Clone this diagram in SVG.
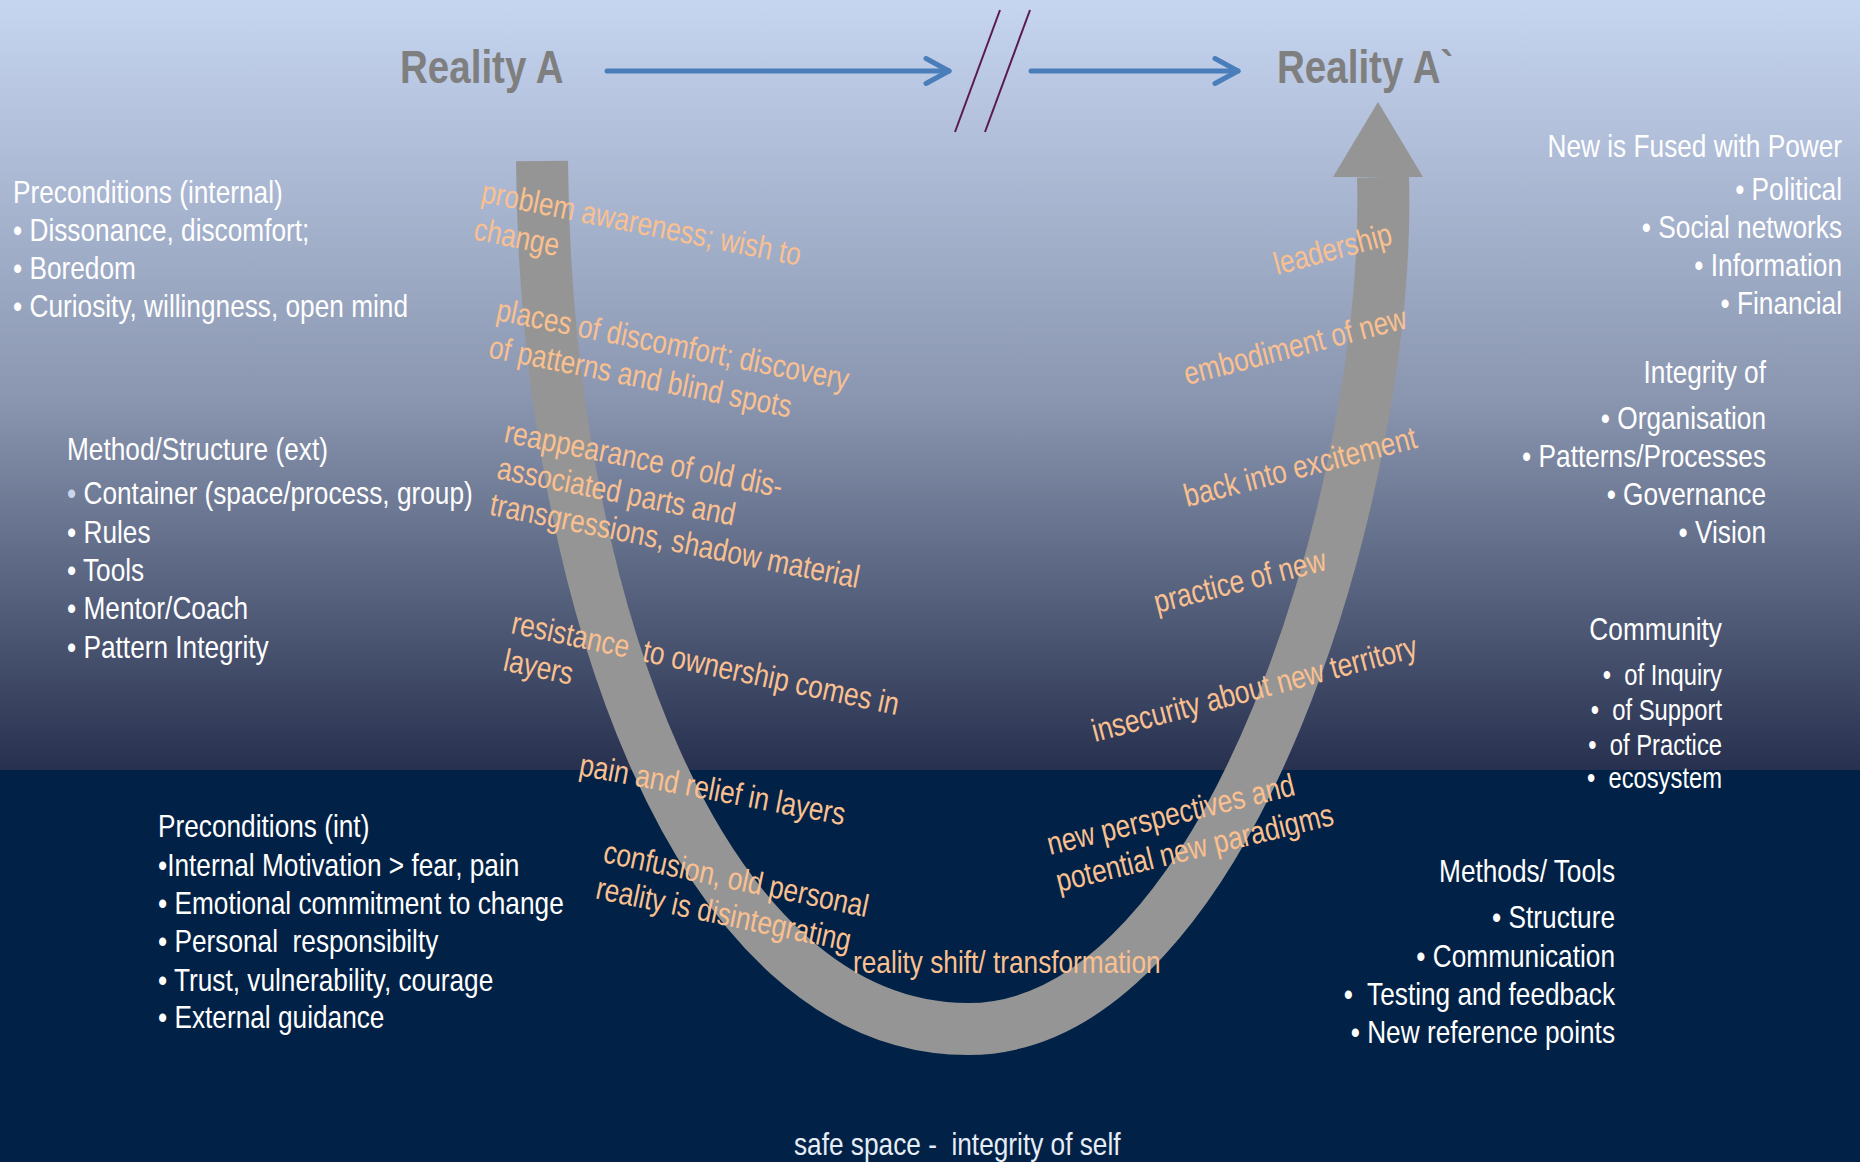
<svg xmlns="http://www.w3.org/2000/svg" width="1860" height="1162" viewBox="0 0 1860 1162">
<style>
.f{font-family:"Liberation Sans","Arial",sans-serif;white-space:pre}
.w{fill:#ffffff;font-size:32px}
.ws{fill:#ffffff;font-size:29px}
.o{fill:#fac090;font-size:32px}
.t{fill:#7f7f7f;font-size:47px;font-weight:bold}
.e{text-anchor:end}
.blue{stroke:#4a7ebb;stroke-width:5;fill:none;stroke-linecap:round;stroke-linejoin:round}
.slash{stroke:#5a1a50;stroke-width:2}
</style>
<defs>
<linearGradient id="bg" x1="0" y1="0" x2="0" y2="770" gradientUnits="userSpaceOnUse">
<stop offset="0" stop-color="#c6d5f0"/>
<stop offset="0.52" stop-color="#8a96b0"/>
<stop offset="1" stop-color="#27314f"/>
</linearGradient>
<marker id="chev" markerUnits="userSpaceOnUse" markerWidth="40" markerHeight="40" refX="24" refY="14" orient="auto" overflow="visible">
<path d="M1,1.5 L24,14 L1,26.5" fill="none" stroke="#4a7ebb" stroke-width="5" stroke-linecap="round" stroke-linejoin="round"/>
</marker>
</defs>
<rect x="0" y="0" width="1860" height="771" fill="url(#bg)"/>
<rect x="0" y="770" width="1860" height="392" fill="#012246"/>

<g id="u-arrow">
<path d="M 542 161 C 545 600 700 1029 968 1029 C 1230 1029 1392 480 1383 177" fill="none" stroke="#959595" stroke-width="52"/>
<polygon points="1333,177 1423,177 1378,102" fill="#959595"/>
</g>

<g id="connectors">
<line class="blue" x1="607" y1="71" x2="949" y2="71" marker-end="url(#chev)"/>
<line class="blue" x1="1031" y1="71" x2="1238" y2="71" marker-end="url(#chev)"/>
<line class="slash" x1="1000" y1="10" x2="955" y2="132"/>
<line class="slash" x1="1030" y1="10" x2="985" y2="132"/>
</g>

<g id="reality-a" transform="translate(400,0) scale(0.82,1)"><text class="f t" x="0" y="83">Reality A</text></g>
<g id="reality-a-prime" transform="translate(1277,0) scale(0.82,1)"><text class="f t" x="0" y="83">Reality A`</text></g>

<g id="preconditions-internal" transform="translate(13,0) scale(0.82,1)">
<text class="f w" x="0" y="203">Preconditions (internal)</text>
<text class="f w" x="0" y="241">• Dissonance, discomfort;</text>
<text class="f w" x="0" y="279">• Boredom</text>
<text class="f w" x="0" y="317">• Curiosity, willingness, open mind</text>
</g>

<g id="method-structure" transform="translate(67,0) scale(0.82,1)">
<text class="f w" x="0" y="460">Method/Structure (ext)</text>
<text class="f w" x="0" y="504"><tspan fill="#c9d6ea">•</tspan> Container (space/process, group)</text>
<text class="f w" x="0" y="543">• Rules</text>
<text class="f w" x="0" y="581">• Tools</text>
<text class="f w" x="0" y="619">• Mentor/Coach</text>
<text class="f w" x="0" y="658">• Pattern Integrity</text>
</g>

<g id="preconditions-int" transform="translate(158,0) scale(0.82,1)">
<text class="f w" x="0" y="837">Preconditions (int)</text>
<text class="f w" x="0" y="876">•Internal Motivation &gt; fear, pain</text>
<text class="f w" x="0" y="914">• Emotional commitment to change</text>
<text class="f w" x="0" y="952">• Personal  responsibilty</text>
<text class="f w" x="0" y="991">• Trust, vulnerability, courage</text>
<text class="f w" x="0" y="1028">• External guidance</text>
</g>

<g id="new-fused-with-power" transform="translate(1842,0) scale(0.82,1)">
<text class="f w e" x="0" y="157">New is Fused with Power</text>
<text class="f w e" x="0" y="200">• Political</text>
<text class="f w e" x="0" y="238">• Social networks</text>
<text class="f w e" x="0" y="276">• Information</text>
<text class="f w e" x="0" y="314">• Financial</text>
</g>

<g id="integrity-of" transform="translate(1766,0) scale(0.82,1)">
<text class="f w e" x="0" y="383">Integrity of</text>
<text class="f w e" x="0" y="429">• Organisation</text>
<text class="f w e" x="0" y="467">• Patterns/Processes</text>
<text class="f w e" x="0" y="505">• Governance</text>
<text class="f w e" x="0" y="543">• Vision</text>
</g>

<g id="community" transform="translate(1722,0) scale(0.82,1)">
<text class="f w e" x="0" y="640">Community</text>
<text class="f ws e" x="0" y="685">•  of Inquiry</text>
<text class="f ws e" x="0" y="720">•  of Support</text>
<text class="f ws e" x="0" y="755">•  of Practice</text>
<text class="f ws e" x="0" y="788">•  ecosystem</text>
</g>

<g id="methods-tools" transform="translate(1615,0) scale(0.82,1)">
<text class="f w e" x="0" y="882">Methods/ Tools</text>
<text class="f w e" x="0" y="928">• Structure</text>
<text class="f w e" x="0" y="967">• Communication</text>
<text class="f w e" x="0" y="1005">•  Testing and feedback</text>
<text class="f w e" x="0" y="1043">• New reference points</text>
</g>

<g id="safe-space" transform="translate(794,0) scale(0.82,1)"><text class="f" x="0" y="1155" fill="#e6edf7" font-size="32">safe space -  integrity of self</text></g>

<g id="label-problem-awareness"><text class="f o" transform="translate(480,202) rotate(11.3) scale(0.82,1)"><tspan x="0" y="0">problem awareness; wish to</tspan><tspan x="0" y="38">change</tspan></text></g>
<g id="label-places-of-discomfort"><text class="f o" transform="translate(495,320) rotate(11.3) scale(0.82,1)"><tspan x="0" y="0">places of discomfort; discovery</tspan><tspan x="0" y="38">of patterns and blind spots</tspan></text></g>
<g id="label-reappearance"><text class="f o" transform="translate(503,442) rotate(11.3) scale(0.82,1)"><tspan x="0" y="0">reappearance of old dis-</tspan><tspan x="0" y="37">associated parts and</tspan><tspan x="0" y="74">transgressions, shadow material</tspan></text></g>
<g id="label-resistance"><text class="f o" transform="translate(510,633) rotate(12) scale(0.82,1)"><tspan x="0" y="0">resistance  to ownership comes in</tspan><tspan x="0" y="38">layers</tspan></text></g>
<g id="label-pain-relief"><text class="f o" transform="translate(578,775) rotate(10.7) scale(0.82,1)">pain and relief in layers</text></g>
<g id="label-confusion"><text class="f o" transform="translate(602,862) rotate(11.8) scale(0.82,1)"><tspan x="0" y="0">confusion, old personal</tspan><tspan x="0" y="37">reality is disintegrating</tspan></text></g>
<g id="label-reality-shift"><text class="f o" transform="translate(853,973) scale(0.82,1)">reality shift/ transformation</text></g>
<g id="label-new-perspectives"><text class="f o" transform="translate(1050,855) rotate(-13.7) scale(0.82,1)"><tspan x="0" y="0">new perspectives and</tspan><tspan x="0" y="38">potential new paradigms</tspan></text></g>
<g id="label-insecurity"><text class="f o" transform="translate(1095,742) rotate(-14.8) scale(0.82,1)">insecurity about new territory</text></g>
<g id="label-practice"><text class="f o" transform="translate(1157,613) rotate(-14.2) scale(0.82,1)">practice of new</text></g>
<g id="label-back-into-excitement"><text class="f o" transform="translate(1187,507) rotate(-14.4) scale(0.82,1)">back into excitement</text></g>
<g id="label-embodiment"><text class="f o" transform="translate(1187,385) rotate(-14.5) scale(0.82,1)">embodiment of new</text></g>
<g id="label-leadership"><text class="f o" transform="translate(1277,275) rotate(-15) scale(0.82,1)">leadership</text></g>
</svg>
